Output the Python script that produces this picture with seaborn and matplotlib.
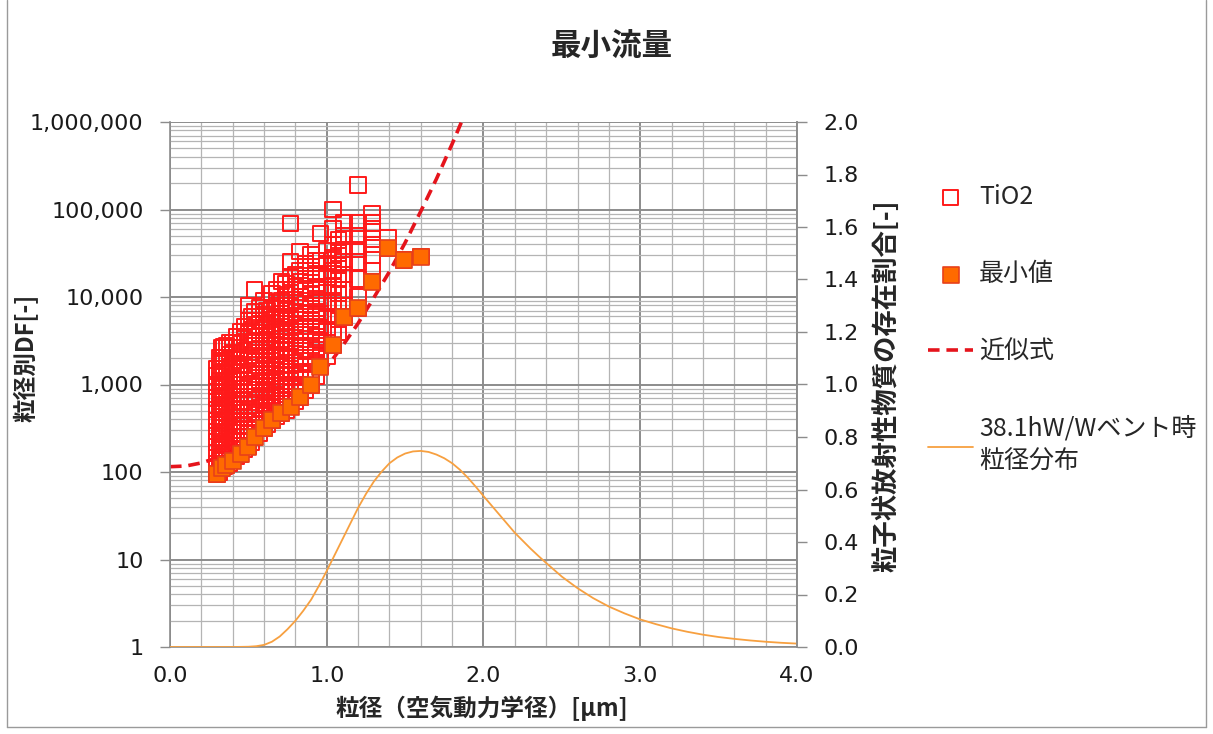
import matplotlib
matplotlib.use('Agg')
import matplotlib.pyplot as plt
from matplotlib.ticker import MultipleLocator, LogLocator, FuncFormatter, NullFormatter, FixedLocator
from matplotlib.lines import Line2D
import seaborn as sns
import pandas as pd

# TiO2 DF values, one list per particle-size column
tio2_sizes = [0.30, 0.315, 0.33, 0.345, 0.36, 0.38, 0.40, 0.425, 0.45, 0.475,
              0.50, 0.52, 0.54, 0.57, 0.60, 0.62, 0.65, 0.68, 0.71, 0.74,
              0.77, 0.80, 0.83, 0.865, 0.90, 0.93, 0.96, 1.00, 1.04, 1.075,
              1.11, 1.20, 1.29, 1.39, 1.49, 1.60]
tio2_df = [
    [95, 125, 165, 220, 290, 390, 520, 700, 950, 1250, 1500],
    [100, 135, 180, 240, 320, 430, 580, 800, 1100, 1500, 2000],
    [110, 150, 205, 280, 380, 520, 720, 1000, 1350, 1850, 2600],
    [115, 155, 210, 290, 400, 550, 750, 1050, 1400, 2000, 2700],
    [120, 165, 225, 310, 420, 580, 800, 1100, 1500, 2000, 2800],
    [125, 175, 240, 330, 450, 620, 850, 1150, 1600, 2200, 3000],
    [135, 185, 250, 340, 470, 650, 900, 1200, 1700, 2300, 3000],
    [150, 200, 280, 380, 520, 720, 1000, 1350, 1900, 2600, 3500],
    [160, 220, 300, 420, 580, 800, 1100, 1500, 2100, 2900, 4000],
    [180, 250, 340, 470, 650, 900, 1250, 1700, 2400, 3300, 4600],
    [195, 270, 380, 520, 730, 1000, 1400, 2000, 2800, 3800, 5300, 8000],
    [220, 300, 420, 580, 800, 1100, 1550, 2150, 3000, 4200, 6000],
    [250, 350, 480, 670, 930, 1300, 1800, 2500, 3500, 4800, 6700, 12000],
    [280, 390, 540, 750, 1050, 1450, 2000, 2800, 3900, 5400, 7500],
    [316, 440, 610, 850, 1200, 1650, 2300, 3200, 4500, 6300, 9000],
    [350, 480, 670, 930, 1300, 1800, 2500, 3500, 4900, 7000],
    [390, 540, 750, 1050, 1450, 2000, 2800, 3900, 5500, 7600, 11000],
    [430, 600, 830, 1150, 1600, 2200, 3100, 4300, 6000, 8500, 12000],
    [470, 650, 900, 1250, 1700, 2400, 3300, 4600, 6400, 9000, 15000],
    [510, 720, 1000, 1400, 1950, 2700, 3800, 5300, 7400, 10500, 14000],
    [560, 800, 1100, 1500, 2100, 3000, 4200, 6000, 8500, 12000, 17000, 25000, 69000],
    [640, 900, 1250, 1750, 2450, 3400, 4800, 6700, 9300, 13000, 18000],
    [720, 1000, 1400, 2000, 2800, 4000, 5500, 7500, 10000, 15000, 20000, 33000],
    [850, 1200, 1700, 2400, 3300, 4600, 6500, 9000, 12500, 17500, 24000],
    [980, 1400, 2000, 2800, 4000, 5500, 8000, 11000, 16000, 22000, 30000],
    [1250, 1750, 2500, 3500, 4900, 6800, 9500, 13000, 18500, 26000],
    [1600, 2200, 3200, 4500, 6500, 9000, 13000, 18000, 26000, 53000],
    [2100, 3000, 4200, 6000, 8500, 12000, 17000, 24000, 34000],
    [2800, 4000, 6000, 9000, 13000, 20000, 28000, 40000, 60000, 100000],
    [4000, 5600, 8000, 11000, 16000, 23000, 32000, 45000],
    [5900, 8000, 12000, 18000, 25000, 35000, 50000, 70000],
    [7400, 10000, 16000, 25000, 35000, 50000, 70000, 190000],
    [15000, 20000, 30000, 40000, 55000, 70000, 90000],
    [36000, 47000],
    [26500],
    [29000],
]

# minimum DF per size
min_sizes = [0.30, 0.33, 0.36, 0.40, 0.45, 0.50, 0.54, 0.60, 0.65, 0.71,
             0.77, 0.83, 0.90, 0.96, 1.04, 1.11, 1.20, 1.29, 1.39, 1.49, 1.60]
min_df = [95, 110, 120, 135, 160, 195, 250, 316, 390, 470,
          560, 720, 980, 1600, 2800, 5900, 7400, 15000, 36000, 26500, 29000]

# fitted curve (近似式)
fit_sizes = [0.0, 0.1, 0.2, 0.3, 0.4, 0.5, 0.6, 0.7, 0.8, 0.9,
             1.0, 1.1, 1.2, 1.3, 1.4, 1.5, 1.6, 1.7, 1.8, 1.9]
fit_df = [115, 117, 127, 145, 174, 221, 295, 417, 617, 955,
          1580, 2750, 5000, 9800, 19500, 41700, 95500, 224000, 562000, 1480000]

# particle size distribution at 38.1hW/W vent (right axis)
dist_sizes = [0.0, 0.1, 0.2, 0.3, 0.4, 0.5, 0.55, 0.6, 0.65, 0.7,
              0.75, 0.8, 0.85, 0.9, 0.95, 1.0, 1.05, 1.1, 1.15, 1.2,
              1.25, 1.3, 1.35, 1.4, 1.45, 1.5, 1.55, 1.6, 1.65, 1.7,
              1.75, 1.8, 1.85, 1.9, 1.95, 2.0, 2.05, 2.1, 2.15, 2.2,
              2.25, 2.3, 2.35, 2.4, 2.5, 2.6, 2.7, 2.8, 2.9, 3.0,
              3.1, 3.2, 3.3, 3.4, 3.5, 3.6, 3.7, 3.8, 3.9, 4.0]
dist_frac = [0.0, 0.0, 0.0, 0.0, 0.0, 0.001, 0.003, 0.008, 0.02, 0.04,
             0.068, 0.10, 0.138, 0.18, 0.233, 0.29, 0.35, 0.41, 0.47, 0.53,
             0.583, 0.63, 0.668, 0.70, 0.722, 0.737, 0.745, 0.747, 0.743, 0.733,
             0.719, 0.70, 0.675, 0.645, 0.611, 0.575, 0.54, 0.505, 0.47, 0.435,
             0.405, 0.375, 0.347, 0.32, 0.268, 0.224, 0.186, 0.154, 0.128, 0.105,
             0.087, 0.071, 0.058, 0.047, 0.038, 0.031, 0.025, 0.020, 0.016, 0.013]

df_ticks = [1, 10, 100, 1000, 10000, 100000, 1000000]

sns.set_style('white')
plt.rcParams['font.family'] = ['DejaVu Sans', 'Noto Sans CJK JP']
jp = ['Noto Sans CJK JP', 'DejaVu Sans']

tio2 = pd.DataFrame([(x, v) for x, col in zip(tio2_sizes, tio2_df) for v in col],
                    columns=['size', 'df'])
mins = pd.DataFrame({'size': min_sizes, 'df': min_df})
fit = pd.DataFrame({'size': fit_sizes, 'df': fit_df})
dist = pd.DataFrame({'size': dist_sizes, 'frac': dist_frac})

fig = plt.figure(figsize=(12.13, 7.34), dpi=100)
ax = fig.add_axes([170 / 1213, 87 / 734, 627 / 1213, 525 / 734])

sns.lineplot(data=fit, x='size', y='df', ax=ax, color='#e5141c', linewidth=2.6,
             linestyle='--', label='近似式', zorder=2.5)
ax.lines[-1].set_dashes([3.2, 1.9])
sns.scatterplot(data=tio2, x='size', y='df', ax=ax, marker='s', s=125,
                color='#ff1a1a', facecolor='none', edgecolor='#ff1a1a',
                linewidth=1.4, label='TiO2', zorder=3)
sns.scatterplot(data=mins, x='size', y='df', ax=ax, marker='s', s=125,
                color='#ff6a00', edgecolor='#e8401a', linewidth=1.2,
                label='最小値', zorder=4)

ax.set_yscale('log')
ax.set_ylim(1, 1e6)
ax.set_xlim(0, 4)
ax.yaxis.set_major_locator(FixedLocator(df_ticks))
ax.yaxis.set_minor_locator(LogLocator(base=10, subs=range(2, 10), numticks=100))
ax.yaxis.set_major_formatter(FuncFormatter(lambda v, p: f'{v:,.0f}'))
ax.yaxis.set_minor_formatter(NullFormatter())
ax.xaxis.set_major_locator(MultipleLocator(1.0))
ax.xaxis.set_minor_locator(MultipleLocator(0.2))
ax.xaxis.set_major_formatter(FuncFormatter(lambda v, p: f'{v:.1f}'))

ax.grid(which='major', color='#8c8c8c', linewidth=1.4)
ax.grid(which='minor', color='#b4b4b4', linewidth=0.9)
ax.set_axisbelow(True)
ax.set_xlabel('')
ax.set_ylabel('')

for side in ['left', 'bottom', 'right']:
    ax.spines[side].set_color('#8c8c8c')
    ax.spines[side].set_linewidth(1.2)
ax.spines['top'].set_visible(False)

ax.tick_params(axis='y', which='major', direction='out', length=7, width=1,
               color='#8c8c8c', pad=12, labelsize=16, labelcolor='#1a1a1a')
ax.tick_params(axis='y', which='minor', length=0)
ax.tick_params(axis='x', which='both', direction='out', length=6, width=1,
               color='#8c8c8c', pad=8, labelsize=16, labelcolor='#1a1a1a')
ax.tick_params(axis='x', which='minor', length=5)

ax2 = ax.twinx()
sns.lineplot(data=dist, x='size', y='frac', ax=ax2, color='#f7a040',
             linewidth=1.3, label='38.1hW/Wベント時\n粒径分布')
ax2.set_ylim(0, 2.0)
ax2.yaxis.set_major_locator(MultipleLocator(0.2))
ax2.yaxis.set_major_formatter(FuncFormatter(lambda v, p: f'{v:.1f}'))
ax2.set_ylabel('')
ax2.grid(False)
for side in ['left', 'bottom', 'top']:
    ax2.spines[side].set_visible(False)
ax2.spines['right'].set_color('#8c8c8c')
ax2.spines['right'].set_linewidth(1.2)
ax2.tick_params(axis='y', direction='out', length=7, width=1, color='#8c8c8c',
                pad=12, labelsize=16, labelcolor='#1a1a1a')

h1, l1 = ax.get_legend_handles_labels()
h2, l2 = ax2.get_legend_handles_labels()
ax.get_legend().remove()
ax2.get_legend().remove()
order = [1, 2, 0]
handles = [h1[i] for i in order] + h2
labels = [l1[i] for i in order] + l2
leg = fig.legend(handles, labels, loc='upper left',
                 bbox_to_anchor=(928 / 1213, 1 - 184 / 734),
                 frameon=False, prop={'family': jp, 'size': 18}, handlelength=1.8,
                 handletextpad=0.25, labelspacing=2.05, borderpad=0, borderaxespad=0)
for t in leg.get_texts():
    t.set_linespacing(1.35)

fig.text(612 / 1213, 1 - 47 / 734, '最小流量', ha='center', va='center',
         fontsize=22, fontweight='bold', family=jp)
fig.text(26 / 1213, 1 - 358 / 734, '粒径別DF[-]', ha='center', va='center',
         rotation=90, fontsize=17, fontweight='bold', family=jp)
fig.text(887 / 1213, 1 - 386 / 734, '粒子状放射性物質の存在割合[-]', ha='center',
         va='center', rotation=90, fontsize=19, fontweight='bold', family=jp)
fig.text(482 / 1213, 1 - 708 / 734, '粒径（空気動力学径）[μm]', ha='center',
         va='center', fontsize=17, fontweight='bold', family=jp)

# chart area border (left, right, bottom)
bx0, bx1, by0 = 7 / 1213, 1206 / 1213, 7 / 734
for xs, ys in [([bx0, bx0], [by0, 1]), ([bx1, bx1], [by0, 1]), ([bx0, bx1], [by0, by0])]:
    fig.add_artist(Line2D(xs, ys, transform=fig.transFigure, color='#9a9a9a', linewidth=1.0))

fig.savefig('out.png', dpi=100)
